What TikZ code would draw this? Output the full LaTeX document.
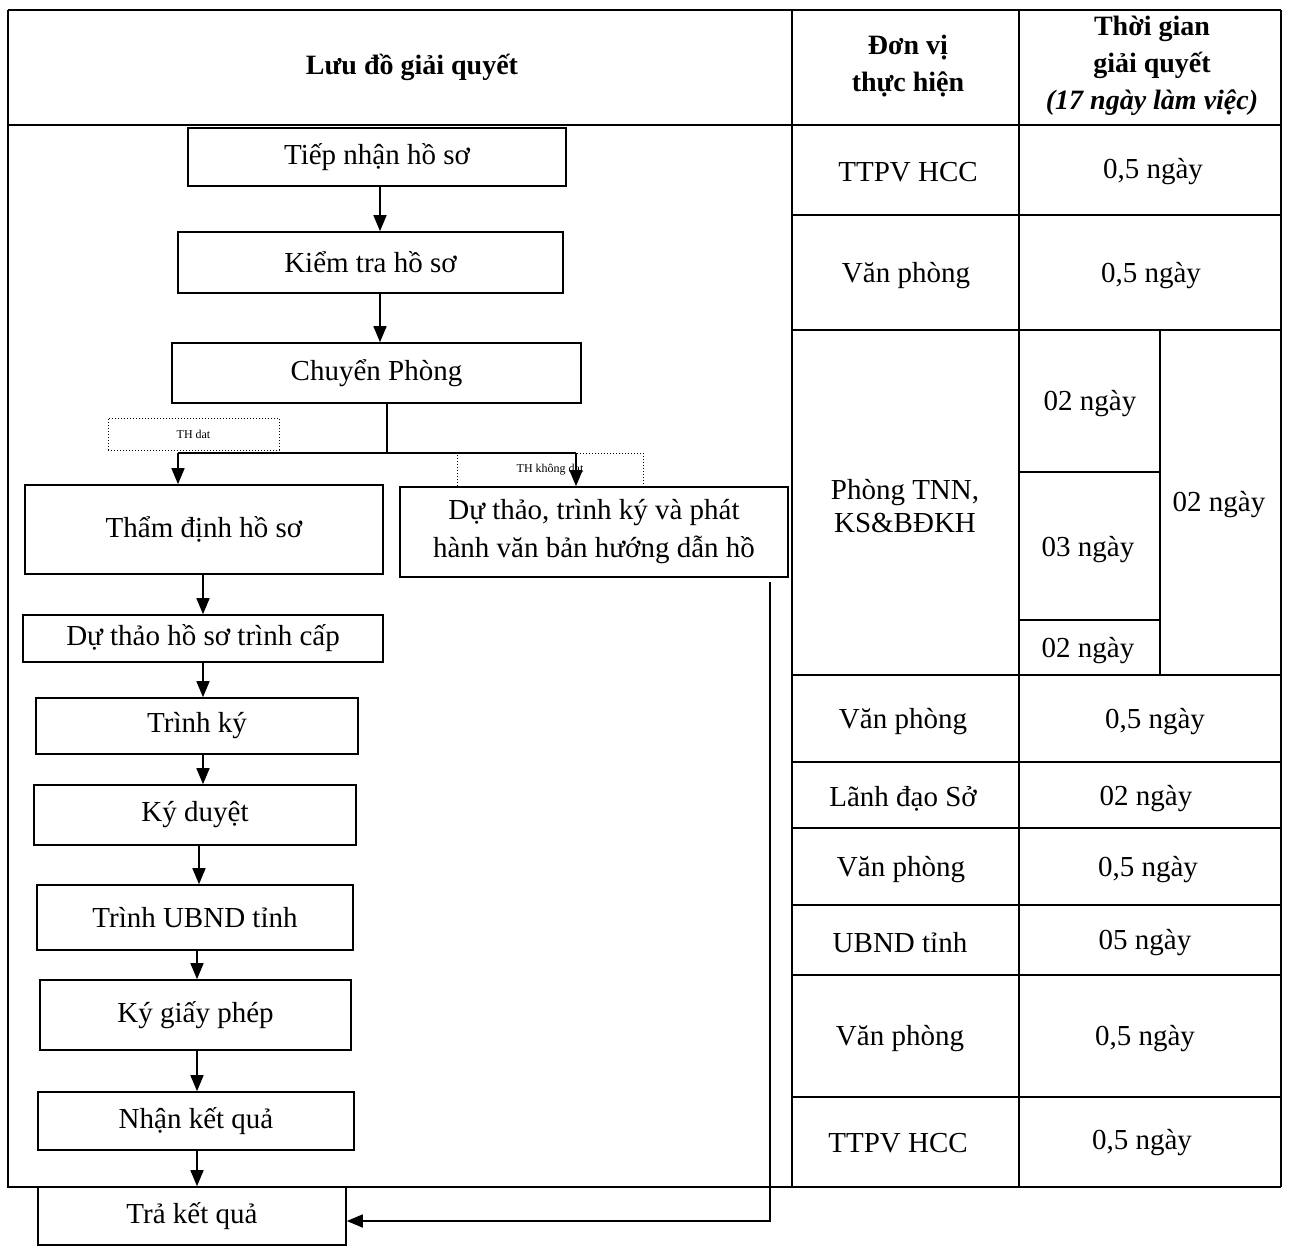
\documentclass[tikz,border=0pt]{standalone}
\usepackage{fontspec}
\setmainfont{Liberation Serif}
\usetikzlibrary{arrows.meta,calc}
\newcommand\bodyfnt{\fontsize{29}{38}\selectfont}
\newcommand\hdfnt{\fontsize{28}{37}\selectfont\bfseries}
\newcommand\tinyfnt{\fontsize{12}{14}\selectfont}
\begin{document}
\begin{tikzpicture}[x=1pt,y=-1pt,
  box/.style={draw,line width=1.6pt,inner sep=0pt,align=center,font=\bodyfnt},
  lbl/.style={inner sep=0pt,align=center,font=\bodyfnt},
  hd/.style={inner sep=0pt,align=center,font=\hdfnt},
  arr/.style={line width=1.6pt,-{Triangle[length=16pt,width=13pt]}},
  ln/.style={line width=1.6pt},
  gridln/.style={line width=1.3pt},
  thbox/.style={draw,dotted,line width=1pt,inner sep=0pt,font=\tinyfnt}]
\useasboundingbox (0,0) rectangle (1290,1247);
% ---------- table frame ----------
\draw[gridln] (8,10) -- (1281,10);
\draw[gridln] (8,125) -- (1281,125);
\draw[gridln] (8,10) -- (8,1187) -- (1281,1187);
\draw[gridln] (792,10) -- (792,1187);
\draw[gridln] (1019,10) -- (1019,1187);
\draw[gridln] (1281,10) -- (1281,1187);
\foreach \yy in {215,330,675,762,828,905,975,1097}
  \draw[gridln] (792,\yy) -- (1281,\yy);
\draw[gridln] (1160,330) -- (1160,675);
\draw[gridln] (1019,472) -- (1160,472);
\draw[gridln] (1019,620) -- (1160,620);
% ---------- headers ----------
\node[hd] (h1) at (412,67) {Lưu đồ giải quyết};
\node[hd] (h2) at (908,66) {Đơn vị\\thực hiện};
\node[hd] (h3) at (1152,66) {Thời gian\\giải quyết\\\textit{(17 ngày làm việc)}};
% ---------- table cells ----------
\node[lbl] (u1) at (908,172) {TTPV HCC};
\node[lbl] (d1) at (1153,172) {0,5 ngày};
\node[lbl] (u2) at (906,276) {Văn phòng};
\node[lbl] (d2) at (1151,276) {0,5 ngày};
\node[lbl,font=\fontsize{29}{33}\selectfont] (u3) at (905,506) {Phòng TNN,\\KS\&BĐKH};
\node[lbl] (d3a) at (1090,404) {02 ngày};
\node[lbl] (d3b) at (1088,550) {03 ngày};
\node[lbl] (d3c) at (1088,651) {02 ngày};
\node[lbl] (d3d) at (1219,505) {02 ngày};
\node[lbl] (u4) at (903,722) {Văn phòng};
\node[lbl] (d4) at (1155,722) {0,5 ngày};
\node[lbl] (u5) at (903,799) {Lãnh đạo Sở};
\node[lbl] (d5) at (1146,799) {02 ngày};
\node[lbl] (u6) at (901,870) {Văn phòng};
\node[lbl] (d6) at (1148,870) {0,5 ngày};
\node[lbl] (u7) at (900,943) {UBND tỉnh};
\node[lbl] (d7) at (1145,943) {05 ngày};
\node[lbl] (u8) at (900,1039) {Văn phòng};
\node[lbl] (d8) at (1145,1039) {0,5 ngày};
\node[lbl] (u9) at (898,1143) {TTPV HCC};
\node[lbl] (d9) at (1142,1143) {0,5 ngày};
% ---------- flowchart boxes ----------
\node[box,minimum width=378pt,minimum height=58pt] (t1) at (377,157) {Tiếp nhận hồ sơ};
\node[box,minimum width=385pt,minimum height=61pt] (t2) at (370.5,262.5) {Kiểm tra hồ sơ};
\node[box,minimum width=409pt,minimum height=60pt] (t3) at (376.5,373) {Chuyển Phòng};
\node[box,minimum width=358pt,minimum height=89pt] (t4) at (204,529.5) {Thẩm định hồ sơ};
\node[box,minimum width=388pt,minimum height=90pt] (t5) at (594,532) {Dự thảo, trình ký và phát\\hành văn bản hướng dẫn hồ};
\node[box,minimum width=360pt,minimum height=47pt] (t6) at (203,638.5) {Dự thảo hồ sơ trình cấp};
\node[box,minimum width=322pt,minimum height=56pt] (t7) at (197,726) {Trình ký};
\node[box,minimum width=322pt,minimum height=60pt] (t8) at (195,815) {Ký duyệt};
\node[box,minimum width=316pt,minimum height=65pt] (t9) at (195,917.5) {Trình UBND tỉnh};
\node[box,minimum width=311pt,minimum height=70pt] (t10) at (195.5,1015) {Ký giấy phép};
\node[box,minimum width=316pt,minimum height=58pt] (t11) at (196,1121) {Nhận kết quả};
\node[box,minimum width=308pt,minimum height=58pt] (t12) at (192,1216) {Trả kết quả};
% ---------- condition labels ----------
\node[thbox,minimum width=171pt,minimum height=32pt] (c1) at (193.5,434) {TH dat};
\node[thbox,minimum width=186pt,minimum height=34pt] (c2) at (550,470) {TH không dat};
% ---------- connectors ----------
\coordinate (a1) at (380,0);
\draw[arr] (a1 |- t1.south) -- (a1 |- t2.north);
\draw[arr] (a1 |- t2.south) -- (a1 |- t3.north);
\coordinate (br) at (387,453);
\coordinate (bl) at (178,453);
\coordinate (brr) at (576,453);
\draw[ln] (br |- t3.south) -- (br);
\draw[ln] (bl) -- (brr);
\draw[arr] (bl) -- (bl |- t4.north);
\draw[arr] (brr) -- (brr |- t5.north);
\coordinate (a2) at (203,0);
\draw[arr] (a2 |- t4.south) -- (a2 |- t6.north);
\draw[arr] (a2 |- t6.south) -- (a2 |- t7.north);
\draw[arr] (a2 |- t7.south) -- (a2 |- t8.north);
\coordinate (a3) at (199,0);
\draw[arr] (a3 |- t8.south) -- (a3 |- t9.north);
\coordinate (a4) at (197,0);
\draw[arr] (a4 |- t9.south) -- (a4 |- t10.north);
\draw[arr] (a4 |- t10.south) -- (a4 |- t11.north);
\draw[arr] (a4 |- t11.south) -- (a4 |- t12.north);
\coordinate (r1) at (770,582);
\coordinate (r2) at (770,1221);
\draw[arr] (r1) -- (r2) -- (r2 -| t12.east);
\end{tikzpicture}
\end{document}
